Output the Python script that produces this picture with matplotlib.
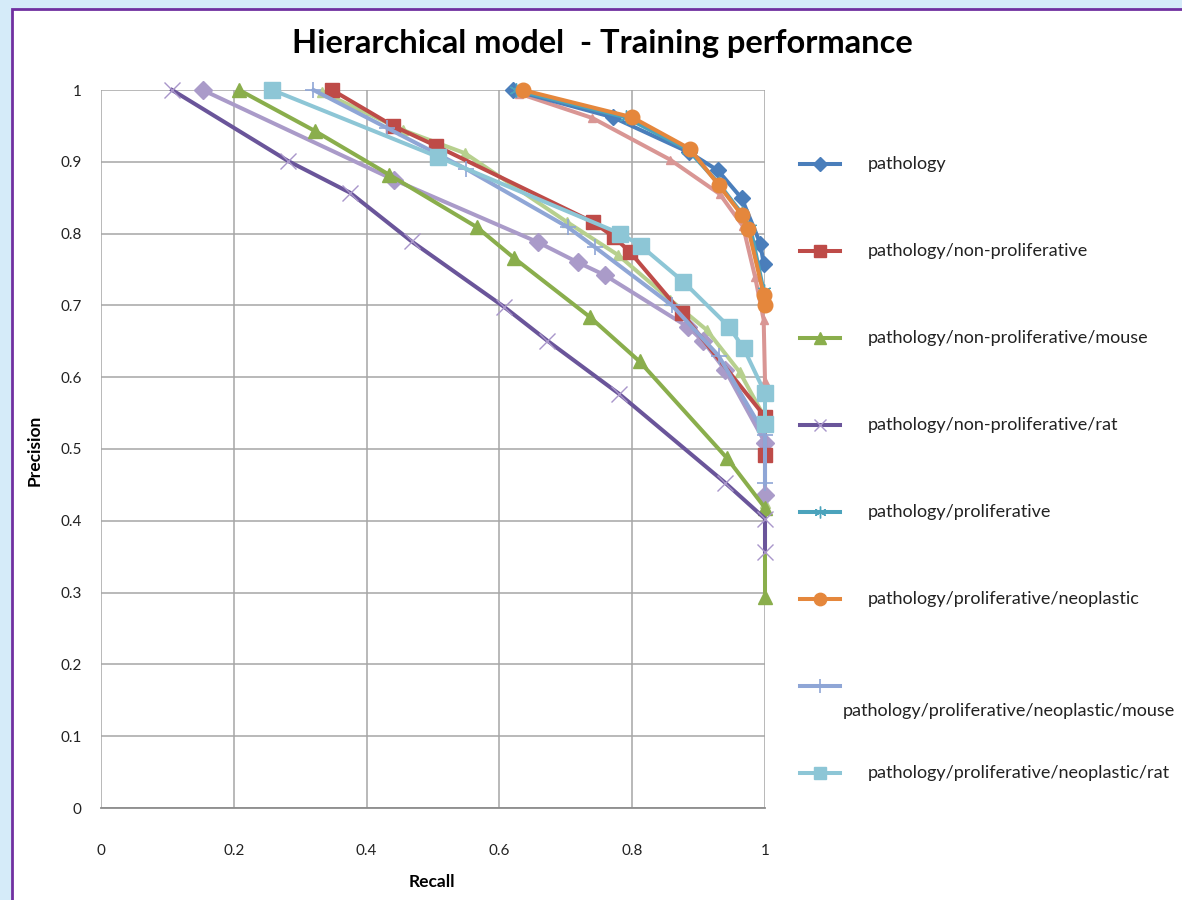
import matplotlib
matplotlib.use("Agg")
import matplotlib.pyplot as plt
from matplotlib.lines import Line2D
from matplotlib.patches import Rectangle

plt.rcParams['font.family'] = ['Lato', 'DejaVu Sans']

# ---- data: recall / precision pairs per category ----
pathology_recall = [0.62, 0.771, 0.886, 0.929, 0.965, 0.993, 0.998]
pathology_precision = [1.0, 0.962, 0.913, 0.888, 0.849, 0.786, 0.758]

nonprolif_recall = [0.348, 0.44, 0.505, 0.741, 0.773, 0.797, 0.875, 1.0, 1.0]
nonprolif_precision = [1.0, 0.95, 0.922, 0.816, 0.795, 0.774, 0.689, 0.545, 0.492]

nonprolif_mouse_recall = [0.208, 0.322, 0.434, 0.566, 0.622, 0.736, 0.811, 0.943, 1.0, 1.0]
nonprolif_mouse_precision = [1.0, 0.943, 0.882, 0.809, 0.766, 0.684, 0.622, 0.487, 0.418, 0.294]

nonprolif_rat_recall = [0.107, 0.282, 0.375, 0.468, 0.607, 0.672, 0.780, 0.940, 1.0, 1.0]
nonprolif_rat_precision = [1.0, 0.901, 0.857, 0.789, 0.698, 0.651, 0.577, 0.453, 0.403, 0.357]

prolif_recall = [0.625, 0.79, 0.884, 0.93, 0.965, 0.978, 0.998, 1.0]
prolif_precision = [1.0, 0.962, 0.917, 0.87, 0.828, 0.808, 0.72, 0.70]

neoplastic_recall = [0.635, 0.800, 0.887, 0.93, 0.965, 0.975, 0.998, 1.0]
neoplastic_precision = [1.0, 0.962, 0.918, 0.868, 0.826, 0.806, 0.715, 0.70]

neo_mouse_recall = [0.32, 0.431, 0.55, 0.703, 0.744, 0.86, 0.93, 1.0, 1.0]
neo_mouse_precision = [1.0, 0.947, 0.89, 0.809, 0.781, 0.70, 0.63, 0.52, 0.452]

neo_rat_recall = [0.258, 0.507, 0.782, 0.813, 0.877, 0.946, 0.968, 1.0, 1.0]
neo_rat_precision = [1.0, 0.907, 0.800, 0.783, 0.733, 0.670, 0.640, 0.578, 0.535]

# additional curves drawn without legend entries
extra_a_recall = [0.63, 0.74, 0.857, 0.932, 0.967, 0.985, 0.998, 1.0]
extra_a_precision = [0.995, 0.961, 0.903, 0.855, 0.81, 0.74, 0.68, 0.595]

extra_b_recall = [0.333, 0.455, 0.548, 0.702, 0.779, 0.857, 0.912, 0.962, 1.0, 1.0]
extra_b_precision = [0.997, 0.944, 0.912, 0.816, 0.77, 0.708, 0.666, 0.607, 0.543, 0.425]

extra_c_recall = [0.153, 0.441, 0.658, 0.718, 0.759, 0.884, 0.907, 0.94, 1.0, 1.0]
extra_c_precision = [1.0, 0.875, 0.788, 0.760, 0.742, 0.670, 0.650, 0.610, 0.509, 0.436]

legend_labels = [
    "pathology",
    "pathology/non-proliferative",
    "pathology/non-proliferative/mouse",
    "pathology/non-proliferative/rat",
    "pathology/proliferative",
    "pathology/proliferative/neoplastic",
    "pathology/proliferative/neoplastic/mouse",
    "pathology/proliferative/neoplastic/rat",
]

x_ticks = [0, 0.2, 0.4, 0.6, 0.8, 1.0]
x_tick_labels = ["0", "0.2", "0.4", "0.6", "0.8", "1"]
y_ticks = [0, 0.1, 0.2, 0.3, 0.4, 0.5, 0.6, 0.7, 0.8, 0.9, 1.0]
y_tick_labels = ["0", "0.1", "0.2", "0.3", "0.4", "0.5", "0.6", "0.7", "0.8", "0.9", "1"]

# ---- styles ----
LW = 2.9
legend_series = [
    dict(x=pathology_recall, y=pathology_precision, color="#4A7EBB", marker="D", ms=8, mfc=None, mew=1),
    dict(x=nonprolif_recall, y=nonprolif_precision, color="#BE4B48", marker="s", ms=9.5, mfc=None, mew=1),
    dict(x=nonprolif_mouse_recall, y=nonprolif_mouse_precision, color="#8AAE4C", marker="^", ms=10.5, mfc=None, mew=1),
    dict(x=nonprolif_rat_recall, y=nonprolif_rat_precision, color="#6A559A", marker="x", ms=11, mfc="#A996CA", mew=1.0),
    dict(x=prolif_recall, y=prolif_precision, color="#4BA3BC", marker=(6, 2, 0), ms=10, mfc=None, mew=1.0),
    dict(x=neoplastic_recall, y=neoplastic_precision, color="#E5873C", marker="o", ms=10.5, mfc=None, mew=1),
    dict(x=neo_mouse_recall, y=neo_mouse_precision, color="#8FA6D6", marker="+", ms=12, mfc=None, mew=1.2),
    dict(x=neo_rat_recall, y=neo_rat_precision, color="#8DC6D6", marker="s", ms=11, mfc=None, mew=1),
]

extra_series = [
    dict(x=extra_a_recall, y=extra_a_precision, color="#D99694", marker="^", ms=5.5),
    dict(x=extra_b_recall, y=extra_b_precision, color="#B7D08E", marker="^", ms=6.5),
    dict(x=extra_c_recall, y=extra_c_precision, color="#AA9BC9", marker="D", ms=9),
]

W, H = 1182, 900
fig = plt.figure(figsize=(W / 100, H / 100), dpi=100)
fig.patch.set_facecolor("#D5EBF9")

# white panel with purple frame
fig.add_artist(Rectangle((12 / W, -0.1), 1.2, 1 - 9 / H + 0.1, transform=fig.transFigure,
                         facecolor="white", edgecolor="#7030A0", linewidth=2.0, zorder=0))

ax = fig.add_axes([101 / W, 1 - 808 / H, 664 / W, 718 / H])
ax.set_facecolor("white")
ax.set_xlim(0, 1)
ax.set_ylim(0, 1)

ax.set_xticks(x_ticks)
ax.set_xticklabels(x_tick_labels)
ax.set_yticks(y_ticks)
ax.set_yticklabels(y_tick_labels)
ax.tick_params(length=0, labelsize=11, colors="#222222")
ax.tick_params(axis="x", pad=26)
ax.tick_params(axis="y", pad=14)
ax.grid(True, color="#A6A6A6", linewidth=1.1)
ax.set_axisbelow(True)
for side in ["top", "right", "left"]:
    ax.spines[side].set_visible(False)
ax.spines["bottom"].set_color("#8C8C8C")
ax.spines["bottom"].set_linewidth(1.3)

for s in extra_series:
    ax.plot(s["x"], s["y"], color=s["color"], linewidth=LW, marker=s["marker"],
            markersize=s["ms"], markerfacecolor=s["color"], markeredgecolor=s["color"],
            clip_on=False, zorder=2)

for i, s in enumerate(legend_series):
    mfc = s["mfc"] or s["color"]
    ax.plot(s["x"], s["y"], color=s["color"], linewidth=LW, marker=s["marker"],
            markersize=s["ms"], markerfacecolor=mfc, markeredgecolor=mfc,
            markeredgewidth=s["mew"], clip_on=False, zorder=3 + i)

ax.set_xlabel("Recall", fontsize=12.5, fontweight="bold")
ax.xaxis.set_label_coords((432 - 101) / 664, (808 - 874) / 718)
ax.set_ylabel("Precision", fontsize=12.5, fontweight="bold")
ax.yaxis.set_label_coords((43 - 101) / 664, (808 - 450) / 718)

fig.text(602 / W, 1 - 44 / H, "Hierarchical model  - Training performance",
         ha="center", va="center", fontsize=23.5, fontweight="bold", color="black")

# legend drawn at the right of the plot area
legend_y = [164, 251, 338, 425, 512, 599, 686, 773]
for i, (s, lab, yy) in enumerate(zip(legend_series, legend_labels, legend_y)):
    mfc = s["mfc"] or s["color"]
    yf = 1 - yy / H
    fig.add_artist(Line2D([800 / W, 840 / W], [yf, yf], transform=fig.transFigure,
                          color=s["color"], linewidth=LW))
    fig.add_artist(Line2D([820 / W], [yf], transform=fig.transFigure, color=s["color"],
                          marker=s["marker"], markersize=s["ms"] * 0.85,
                          markerfacecolor=mfc, markeredgecolor=mfc,
                          markeredgewidth=s["mew"], linestyle="none"))
    if i == 6:
        fig.text(843 / W, 1 - 711 / H, lab, ha="left", va="center", fontsize=13, color="#222222")
    else:
        fig.text(868 / W, yf, lab, ha="left", va="center", fontsize=13, color="#222222")

fig.savefig("out.png", dpi=100)
